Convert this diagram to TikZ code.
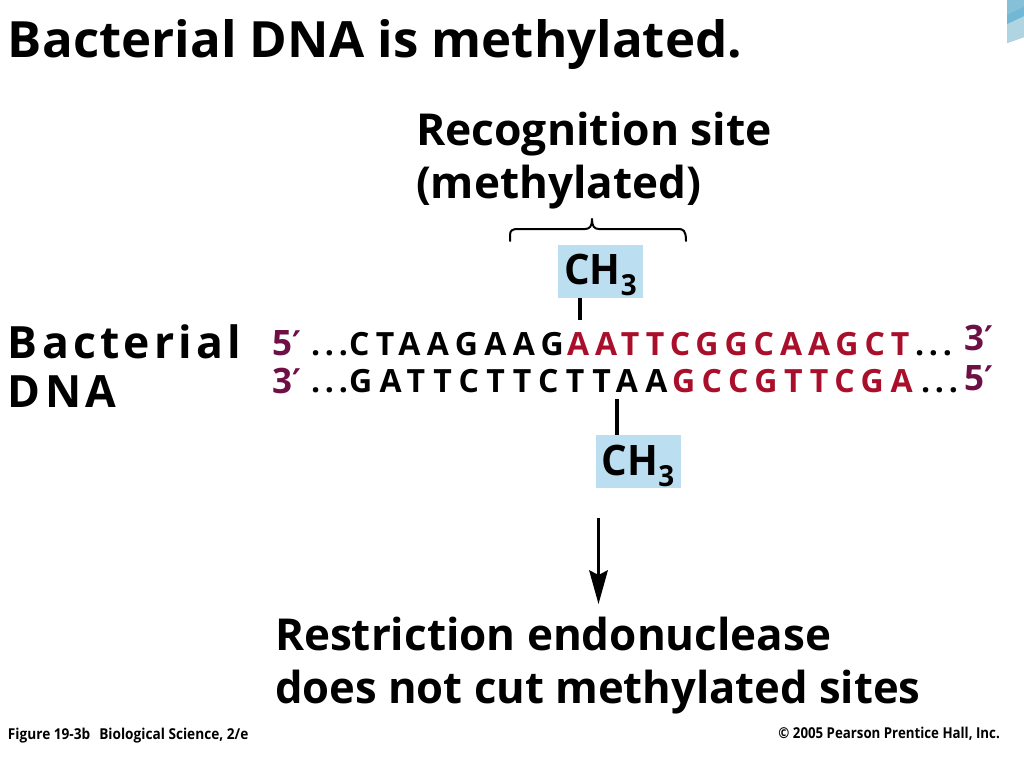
\documentclass[tikz,border=0pt]{standalone}
\usepackage{fontspec}
\setmainfont{Open Sans}[BoldFont={Open Sans Bold}]
\newfontfamily\headf{Open Sans}[BoldFont={Open Sans Bold},FakeStretch=1.0]
\newfontfamily\recf{Open Sans}[BoldFont={Open Sans Bold},FakeStretch=1.01]
\newfontfamily\resf{Open Sans}[BoldFont={Open Sans Bold},FakeStretch=0.99]
\newfontfamily\titlef{Open Sans}[BoldFont={Open Sans Bold},FakeStretch=1.02]
\newfontfamily\chf{Open Sans}[BoldFont={Open Sans Bold},FakeStretch=0.96]
\newfontfamily\footf{Open Sans}[BoldFont={Open Sans Bold},FakeStretch=0.91]
\newfontfamily\cprf{Open Sans}[BoldFont={Open Sans Bold},FakeStretch=0.885]
\newfontfamily\widef{Open Sans}[BoldFont={Open Sans Bold},LetterSpace=9.5]
\newfontfamily\plainf{Open Sans}[BoldFont={Open Sans Bold}]
\newfontfamily\primef{DejaVu Sans}[BoldFont={DejaVu Sans Bold}]
\definecolor{dnared}{HTML}{A90F2B}
\definecolor{primecol}{HTML}{6E0F45}
\definecolor{boxblue}{HTML}{BBDFF0}
\newcommand{\fsz}[1]{\fontsize{#1}{#1}\selectfont}
\newcommand{\ls}[1]{\bfseries\plainf\fsz{32}\addfontfeature{LetterSpace=#1}}
\newcommand{\prm}[1]{#1\kern0.5pt{\primef\fsz{34}′}}
\tikzset{
 lbl/.style={anchor=base west,inner sep=0pt,outer sep=0pt,font=\bfseries},
 boxn/.style={fill=boxblue,inner sep=0pt,minimum width=85pt,minimum height=53pt,text=black,
   text height=40pt,text depth=12.5pt,font=\bfseries\chf\fsz{42}},
 tick/.style={line width=3.6pt,black},
 prime/.style={lbl,text=primecol,font=\bfseries\plainf\fsz{35}},
 dots/.style={lbl,font={\ls{15}}},
}
\begin{document}
\begin{tikzpicture}[x=1pt,y=-1pt]
\useasboundingbox (0,0) rectangle (1024,768);
\fill[white] (0,0) rectangle (1024,768);
% corner decoration
\fill[cyan!45!teal!55!white] (1007,0) -- (1024,0) -- (1024,37) -- (1007,43) -- cycle;
\fill[cyan!35!teal!35!white] (1007,24) -- (1024,16) -- (1024,37) -- (1007,43) -- cycle;
\fill[cyan!50!teal!65!white] (1007,15) -- (1024,7) -- (1024,16) -- (1007,24) -- cycle;
% texts
\node[lbl,font=\bfseries\titlef\fsz{50}] (title) at (8,58) {Bacterial DNA is methylated.};
\node[lbl,font=\bfseries\recf\fsz{44}] (rec1) at (416,145) {Recognition site};
\node[lbl,font=\bfseries\headf\fsz{44}] (rec2) at (416,198) {(methylated)};
\node[lbl,font=\bfseries\widef\fsz{44.5}] (bact1) at (8,358) {Bacterial};
\node[lbl,font=\bfseries\widef\fsz{44.5}] (bact2) at (8,407) {DNA};
% strands
\node[prime] (p5a) at (272,355) {\prm{5}};
\node[prime] (p3a) at (272,393) {\prm{3}};
\node[dots] (d1) at (311,355) {...};
\node[lbl,font={\ls{20}}] (s1) at (349,355) {CTAAGAAG};
\node[lbl,font={\ls{18.6}},text=dnared] (s1r) at (567,355) {AATTCGGCAAGCT};
\node[dots] (d2) at (915,355) {...};
\node[dots] (d3) at (311,392) {...};
\node[lbl,font={\ls{23}}] (s2) at (349,392) {GATTCTTCTTAA};
\node[lbl,font={\ls{20.6}},text=dnared] (s2r) at (672,392) {GCCGTTCGA};
\node[dots] (d4) at (921,392) {...};
\node[prime] (p3b) at (964,350) {\prm{3}};
\node[prime] (p5b) at (964,390) {\prm{5}};
% methyl boxes
\node[boxn] (m1) at (600.5,271) {CH\raisebox{-11pt}{\fsz{29}3}};
\node[boxn] (m2) at (638,461.5) {CH\raisebox{-11pt}{\fsz{29}3}};
\coordinate (t1) at (580,320);
\coordinate (t2) at (617,399);
\draw[tick] (m1.south -| t1) -- (t1);
\draw[tick] (t2) -- (m2.north -| t2);
% brace
\coordinate (bl) at (510,241);
\coordinate (br) at (686,241);
\draw[line width=2pt,black,line cap=round,line join=round]
 (bl) -- (510,235) .. controls (510,230) and (513,229) .. (518,229) -- (585,229)
 .. controls (590,229) and (592,226) .. (592,219)
 .. controls (592,226) and (594,229) .. (599,229) -- (678,229)
 .. controls (683,229) and (686,230) .. (br);
% arrow
\coordinate (a1) at (598.5,518);
\coordinate (a2) at (598.5,604);
\draw[line width=3.6pt,black] (a1) -- (598.5,585);
\fill[black] (a2) -- (589,570) -- (598.5,575) -- (608,570) -- cycle;
% result
\node[lbl,font=\bfseries\headf\fsz{44}] (res1) at (275,650) {Restriction endonuclease};
\node[lbl,font=\bfseries\resf\fsz{44}] (res2) at (275,703) {does not cut methylated sites};
% footer
\node[lbl,font=\bfseries\footf\fsz{15}] (fig) at (8,739) {Figure 19-3b\hspace{9pt}Biological Science, 2/e};
\node[anchor=base east,inner sep=0pt,font=\bfseries\cprf\fsz{15}] (cpr) at (1000,738) {© 2005 Pearson Prentice Hall, Inc.};
\end{tikzpicture}
\end{document}
